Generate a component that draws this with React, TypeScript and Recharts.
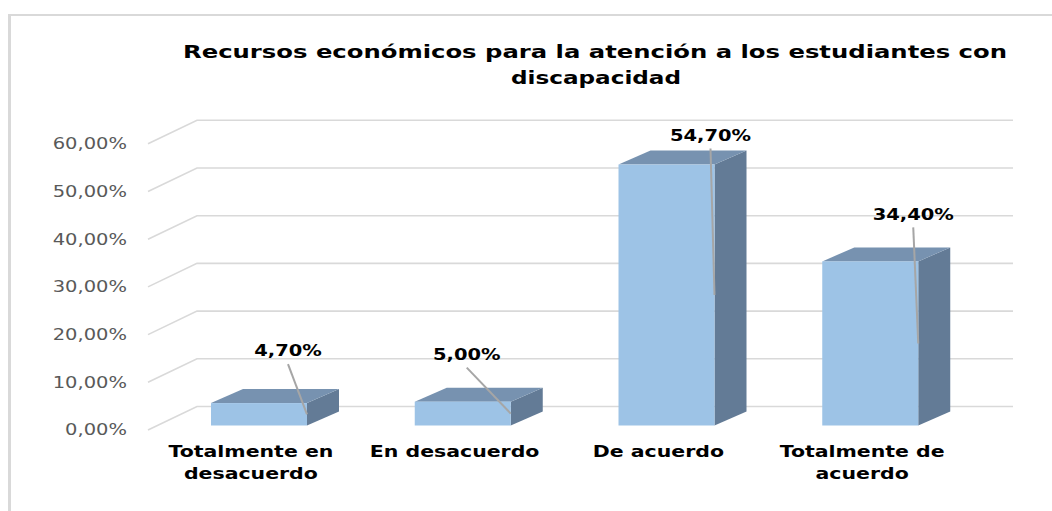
import React from "react";
import { ComposedChart, Bar, XAxis, YAxis, CartesianGrid, LabelList } from "recharts";

const categories = ["Totalmente en\ndesacuerdo", "En desacuerdo", "De acuerdo", "Totalmente de\nacuerdo"];
const values = [0.047, 0.05, 0.547, 0.344];
const yTicks = [0, 0.1, 0.2, 0.3, 0.4, 0.5, 0.6];
const titleLines = ["Recursos económicos para la atención a los estudiantes con", "discapacidad"];

// label offsets relative to the top-center of each bar's front face (manually placed in original)
const labelOffsets: [number, number][] = [[29, -52], [4, -47], [44, -29], [43, -47]];

const data = categories.map((c, i) => ({ name: c, value: values[i] }));

const W = 1052;
const H = 511;
const PLOT_LEFT = 157;
const PLOT_RIGHT = 972;
const PLOT_TOP = 139.3;
const PLOT_BOTTOM = 425.5;
const DEPTH_X = 32;
const DEPTH_Y = -14;
const FONT = "'DejaVu Sans', Verdana, sans-serif";
const STRETCH = 1.3;

const fmt = (v: number) => (v * 100).toFixed(2).replace(".", ",") + "%";

const Bar3D = (props: any) => {
  const { x, y, width, height } = props;
  const dx = DEPTH_X;
  const dy = DEPTH_Y;
  return (
    <g>
      <polygon
        points={`${x + width},${y} ${x + width + dx},${y + dy} ${x + width + dx},${y + height + dy} ${x + width},${y + height}`}
        fill="#637b96"
      />
      <polygon
        points={`${x},${y} ${x + dx},${y + dy} ${x + width + dx},${y + dy} ${x + width},${y}`}
        fill="#7792b0"
      />
      <rect x={x} y={y} width={width} height={height} fill="#9dc3e6" />
    </g>
  );
};

const DataLabel = (props: any) => {
  const { x, y, width, height, value, index } = props;
  const [ox, oy] = labelOffsets[index] || [0, -20];
  const lx = x + width / 2 + ox;
  const ly = y + oy;
  return (
    <g>
      <line x1={lx} y1={ly + 13} x2={x + width} y2={y + height / 2} stroke="#a6a6a6" strokeWidth={2} />
      <g transform={`translate(${lx},${ly}) scale(${STRETCH},1)`}>
        <text x={0} y={0} dy="0.36em" textAnchor="middle" fontFamily={FONT} fontWeight="bold" fontSize={15} fill="#000">
          {fmt(value)}
        </text>
      </g>
    </g>
  );
};

const YTick = (props: any) => {
  const { y, payload } = props;
  return (
    <g transform={`translate(${PLOT_LEFT - 30},${y + 4.5}) scale(${STRETCH},1)`}>
      <text x={0} y={0} dy="0.36em" textAnchor="end" fontFamily={FONT} fontSize={15} fill="#595959">
        {fmt(payload.value)}
      </text>
    </g>
  );
};

const XTick = (props: any) => {
  const { x, payload } = props;
  const lines = String(payload.value).split("\n");
  return (
    <g>
      {lines.map((ln, i) => (
        <g key={i} transform={`translate(${x - 8},${PLOT_BOTTOM + 26 + i * 22}) scale(1.28,1)`}>
          <text x={0} y={0} dy="0.36em" textAnchor="middle" fontFamily={FONT} fontWeight="bold" fontSize={16} fill="#000">
            {ln}
          </text>
        </g>
      ))}
    </g>
  );
};

const GridLine = (props: any) => {
  const { x1, x2, y1 } = props;
  return (
    <polyline
      key={props.key}
      points={`${x1 - 9},${y1 + 4.5} ${x1 + 40},${y1 - 19} ${x2 + 41},${y1 - 19}`}
      fill="none"
      stroke="#d9d9d9"
      strokeWidth={1.6}
    />
  );
};

export default function App() {
  return (
    <div style={{ position: "absolute", left: 0, top: 0, width: W, height: H, background: "#fff" }}>
      <div
        style={{
          position: "absolute",
          left: 8,
          top: 14,
          width: W - 8,
          height: H - 14,
          borderLeft: "3px solid #d9d9d9",
          borderTop: "2px solid #d9d9d9",
          boxSizing: "border-box",
        }}
      />
      <div style={{ position: "absolute", left: 0, top: 0 }}>
        <ComposedChart
          width={W}
          height={H}
          data={data}
          margin={{ top: PLOT_TOP, right: W - PLOT_RIGHT, bottom: 0, left: 0 }}
        >
          <CartesianGrid vertical={false} horizontal={GridLine as any} />
          <XAxis
            dataKey="name"
            axisLine={false}
            tickLine={false}
            height={H - PLOT_BOTTOM}
            tick={<XTick />}
            interval={0}
          />
          <YAxis
            domain={[0, 0.6]}
            ticks={yTicks}
            width={PLOT_LEFT}
            axisLine={false}
            tickLine={false}
            tick={<YTick />}
            interval={0}
          />
          <Bar dataKey="value" barSize={96} shape={<Bar3D />} isAnimationActive={false}>
            <LabelList dataKey="value" content={<DataLabel />} />
          </Bar>
        </ComposedChart>
      </div>
      <svg style={{ position: "absolute", left: 0, top: 0 }} width={W} height={110}>
        <text x={595} y={58} textAnchor="middle" fontFamily={FONT} fontWeight="bold" fontSize={18} fill="#000" textLength={824} lengthAdjust="spacingAndGlyphs">
          {titleLines[0]}
        </text>
        <text x={596} y={84} textAnchor="middle" fontFamily={FONT} fontWeight="bold" fontSize={18} fill="#000" textLength={170} lengthAdjust="spacingAndGlyphs">
          {titleLines[1]}
        </text>
      </svg>
    </div>
  );
}
